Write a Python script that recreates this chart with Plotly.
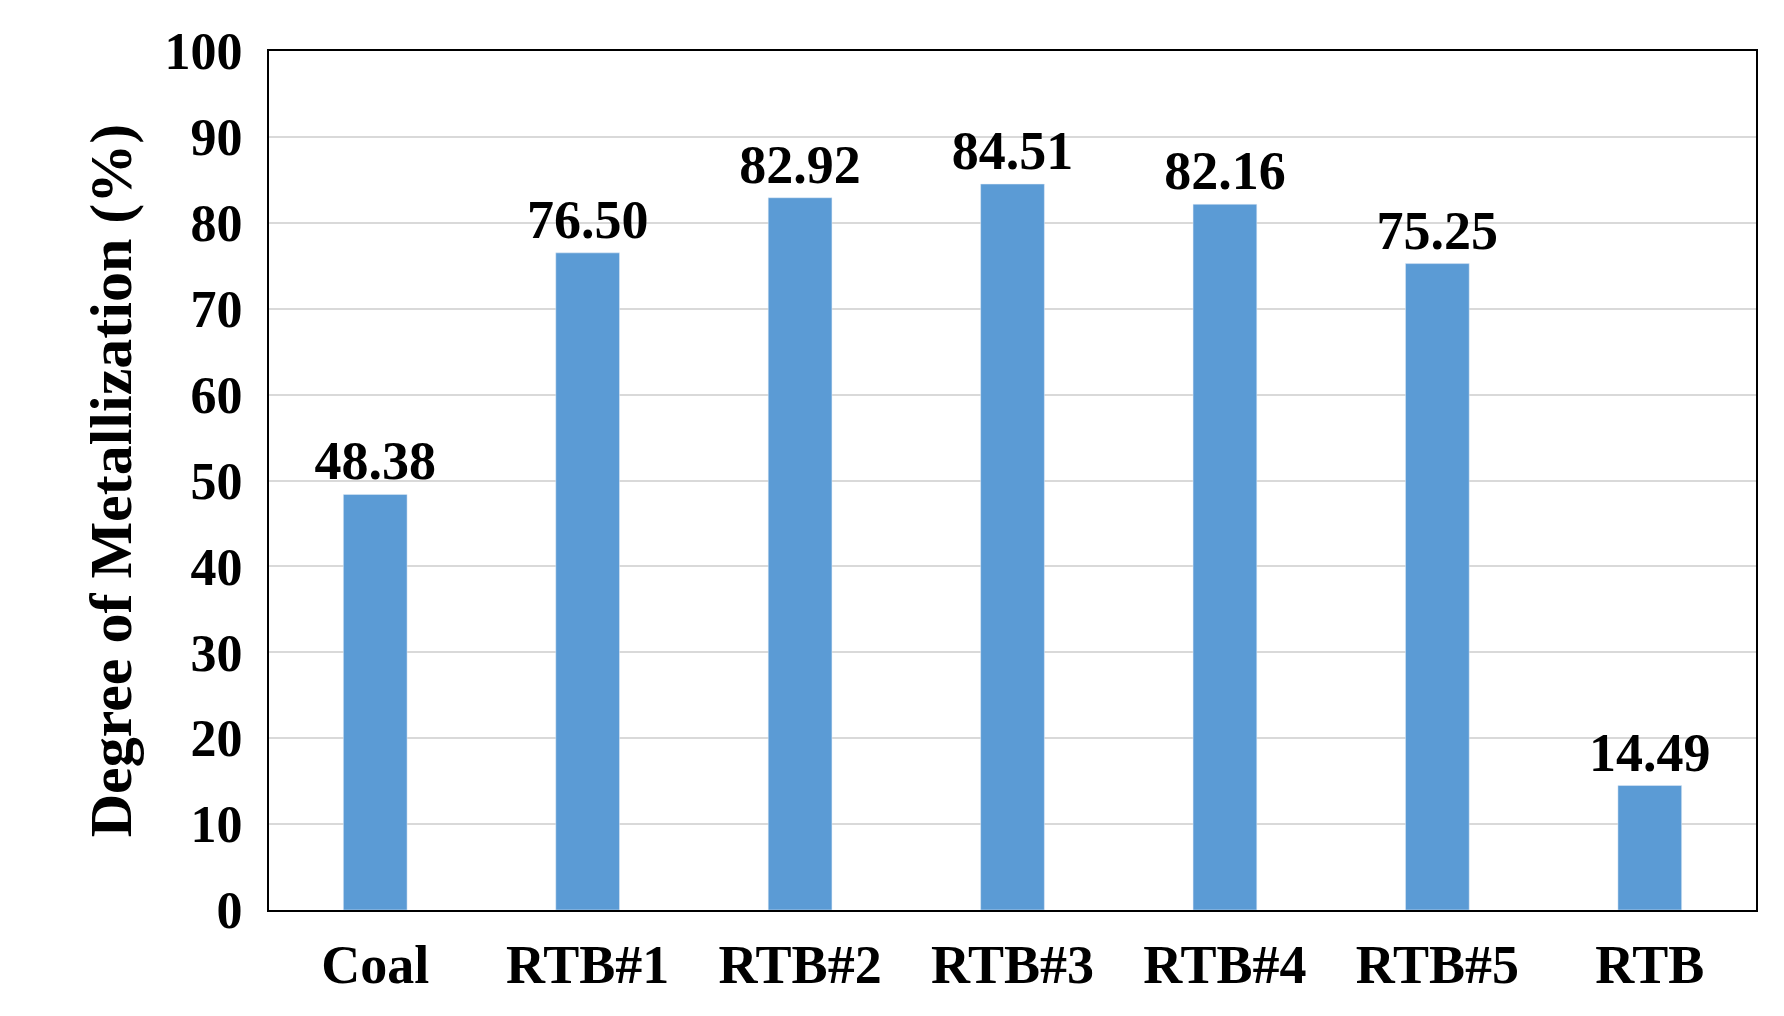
import plotly.graph_objects as go

categories = ["Coal", "RTB#1", "RTB#2", "RTB#3", "RTB#4", "RTB#5", "RTB"]
values = [48.38, 76.50, 82.92, 84.51, 82.16, 75.25, 14.49]
labels = ["48.38", "76.50", "82.92", "84.51", "82.16", "75.25", "14.49"]

fig = go.Figure(go.Bar(
    x=categories, y=values, text=labels, textposition="outside",
    texttemplate="<b>%{text}</b>", constraintext="none",
    textfont=dict(family="Liberation Serif", size=54, color="black"),
    marker=dict(color="#5B9BD5"), width=0.3, cliponaxis=False,
))
fig.update_layout(
    width=1784, height=1016, plot_bgcolor="white", paper_bgcolor="white",
    margin=dict(l=261, r=36, t=43, b=114), showlegend=False,
    font=dict(family="Liberation Serif", color="black"),
)
fig.update_xaxes(showline=True, linecolor="black", linewidth=2, mirror=True,
                 tickfont=dict(family="Liberation Serif", size=54, color="black"),
                 tickprefix="<b>", ticksuffix="</b>", ticks="", ticklabelstandoff=6)
fig.update_yaxes(range=[0, 100], dtick=10, showline=True, linecolor="black",
                 linewidth=2, mirror=True, gridcolor="#d9d9d9", gridwidth=2,
                 tickfont=dict(family="Liberation Serif", size=52, color="black"),
                 tickprefix="<b>", ticksuffix="</b>", ticklabelstandoff=14,
                 title=dict(text="<b>Degree of Metallization (%)</b>",
                            font=dict(family="Liberation Serif", size=60, color="black"),
                            standoff=14))
fig.write_html("out.html")
